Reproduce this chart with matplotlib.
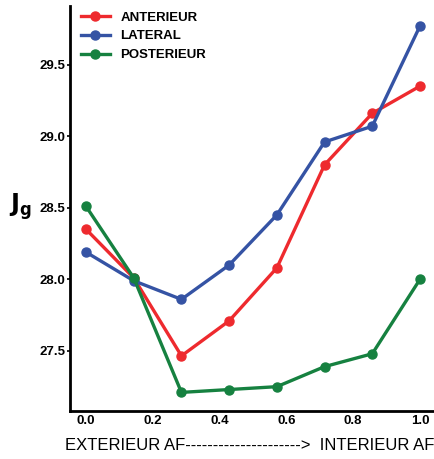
import matplotlib
matplotlib.use('Agg')
import matplotlib.pyplot as plt
import numpy as np

plt.rcParams['font.family'] = ['Liberation Sans', 'DejaVu Sans']

x = [0, 1/7, 2/7, 3/7, 4/7, 5/7, 6/7, 1.0]
anterieur = [28.35, 28.01, 27.465, 27.71, 28.08, 28.80, 29.16, 29.35]
lateral = [28.19, 27.99, 27.86, 28.10, 28.45, 28.96, 29.07, 29.77]
posterieur = [28.51, 28.01, 27.21, 27.23, 27.25, 27.39, 27.48, 28.0]

xticks = [0.0, 0.2, 0.4, 0.6, 0.8, 1.0]
yticks = [27.5, 28.0, 28.5, 29.0, 29.5]

fig = plt.figure(figsize=(4.35, 4.59), dpi=100)
ax = fig.add_axes([70/435, 48/459, 365/435, 405/459])

ax.plot(x, anterieur, color='#ee2a2e', lw=2.4, marker='o', ms=6.5, label='ANTERIEUR')
ax.plot(x, lateral, color='#3553a4', lw=2.4, marker='o', ms=6.5, label='LATERAL')
ax.plot(x, posterieur, color='#168140', lw=2.4, marker='o', ms=6.5, label='POSTERIEUR')

ax.set_xlim(-0.048, 1.045)
ax.set_ylim(27.08, 29.91)
ax.set_xticks(xticks)
ax.set_yticks(yticks)
ax.set_xticklabels(['%.1f' % t for t in xticks], fontweight='bold', fontsize=9.5)
ax.set_yticklabels(['%.1f' % t for t in yticks], fontweight='bold', fontsize=9.5)
ax.tick_params(axis='x', length=0, pad=3)
ax.tick_params(axis='y', length=2.5, width=1.2, pad=1)

for s in ['top', 'right']:
    ax.spines[s].set_visible(False)
for s in ['left', 'bottom']:
    ax.spines[s].set_linewidth(2)

# axis caption drawn as figure text so it fits the narrow canvas
fig.text(250/435, 1 - 445/459, 'EXTERIEUR AF--------------------->  INTERIEUR AF',
         fontsize=12, ha='center', va='center')
fig.text(20/435, 1 - 207/459, r'$\mathbf{J_g}$', fontsize=17, ha='center', va='center')

ax.legend(loc='upper left', frameon=False, prop={'weight': 'bold', 'size': 9.5},
          handlelength=2.2, borderaxespad=0.0, labelspacing=0.5, bbox_to_anchor=(0.015, 1.0))

fig.savefig('out.png', dpi=100)
